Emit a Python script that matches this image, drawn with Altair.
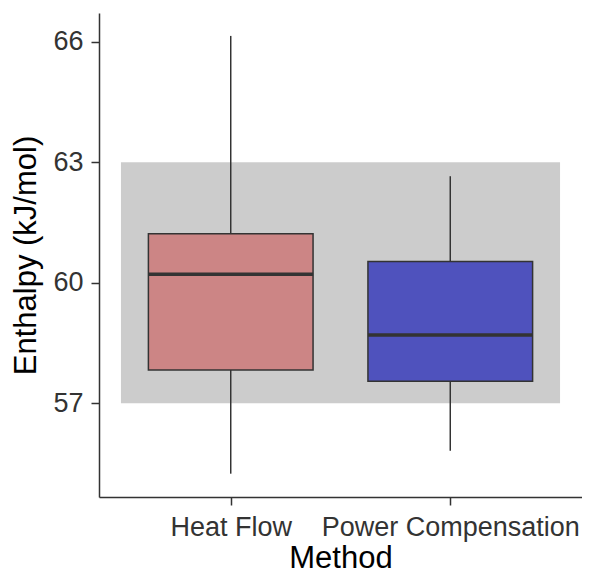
import altair as alt
import pandas as pd

methods = ["Heat Flow", "Power Compensation"]
whisker_low = [55.25, 55.82]
q1 = [57.83, 57.55]
median = [60.21, 58.70]
q3 = [61.22, 60.53]
whisker_high = [66.14, 62.65]
fills = ["#CC8585", "#4F52BD"]

band_low = [57.0]
band_high = [63.0]

box_half = 0.375
pos = [i + 1 for i in range(len(methods))]

df = pd.DataFrame({
    "Method": methods,
    "pos": pos,
    "lo": [p - box_half for p in pos],
    "hi": [p + box_half for p in pos],
    "wlo": whisker_low,
    "q1": q1,
    "med": median,
    "q3": q3,
    "whi": whisker_high,
})

band_df = pd.DataFrame({
    "x0": [min(pos) - 0.5],
    "x1": [max(pos) + 0.5],
    "y0": band_low,
    "y1": band_high,
})

label_expr = "{" + ",".join(f"'{p}': '{m}'" for p, m in zip(pos, methods)) + "}[datum.value]"

xscale = alt.Scale(domain=[0.4, 2.6], nice=False, zero=False)
yscale = alt.Scale(domain=[54.67, 66.71], nice=False, zero=False)

common = dict(
    grid=False, labelFontSize=27, titleFontSize=31, labelColor="#333333", titleColor="#000000",
    labelFont="Liberation Sans", titleFont="Liberation Sans", titleFontWeight="normal",
    tickSize=8, tickColor="#333333", tickWidth=1.5, domainColor="#333333", domainWidth=1.5,
    labelFlush=False, labelOverlap=False, labelLimit=0,
)
xaxis = alt.Axis(title="Method", values=pos, labelExpr=label_expr,
                 labelPadding=9, titlePadding=3, **common)
yaxis = alt.Axis(title="Enthalpy (kJ/mol)", values=[57, 60, 63, 66],
                 labelPadding=8, titlePadding=10, **common)

band = alt.Chart(band_df).mark_rect(color="#CCCCCC").encode(
    x=alt.X("x0:Q", scale=xscale, axis=xaxis),
    x2="x1:Q",
    y=alt.Y("y0:Q", scale=yscale, axis=yaxis),
    y2="y1:Q",
)

base = alt.Chart(df)

whisk_up = base.mark_rule(color="#333333", strokeWidth=1.5).encode(
    x=alt.X("pos:Q", scale=xscale), y=alt.Y("q3:Q", scale=yscale), y2="whi:Q")
whisk_dn = base.mark_rule(color="#333333", strokeWidth=1.5).encode(
    x=alt.X("pos:Q", scale=xscale), y=alt.Y("wlo:Q", scale=yscale), y2="q1:Q")

boxes = base.mark_rect(stroke="#333333", strokeWidth=1.5).encode(
    x=alt.X("lo:Q", scale=xscale), x2="hi:Q",
    y=alt.Y("q1:Q", scale=yscale), y2="q3:Q",
    fill=alt.Fill("Method:N", scale=alt.Scale(domain=methods, range=fills), legend=None),
)

med = base.mark_rule(color="#333333", strokeWidth=3.5).encode(
    x=alt.X("lo:Q", scale=xscale), x2="hi:Q", y=alt.Y("med:Q", scale=yscale))

chart = alt.layer(band, whisk_up, whisk_dn, boxes, med).properties(
    width=483, height=484,
    background="white",
    autosize=alt.AutoSizeParams(type="none"),
    padding={"left": 91, "top": 5, "right": 0, "bottom": 81},
).configure_view(strokeWidth=0)

chart.save("out.html", embed_options={"renderer": "svg", "actions": False})
